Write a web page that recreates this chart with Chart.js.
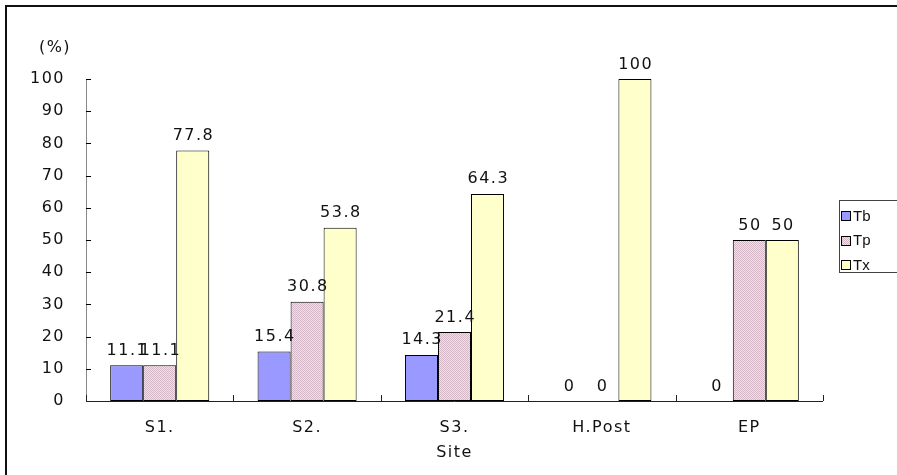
<!DOCTYPE html>
<html>
<head>
<meta charset="utf-8">
<script src="https://cdn.jsdelivr.net/npm/chart.js@4/dist/chart.umd.min.js"></script>
<style>
  html, body { margin: 0; padding: 0; background: #fff; }
  #wrap { width: 897px; height: 475px; }
</style>
</head>
<body>
<div id="wrap"><canvas id="c" width="897" height="475"></canvas></div>
<script>
// Share of each type per site (%)
const sites = ['S1.', 'S2.', 'S3.', 'H.Post', 'EP'];
const seriesNames = ['Tb', 'Tp', 'Tx'];
const tbValues = [11.1, 15.4, 14.3, 0, 0];
const tpValues = [11.1, 30.8, 21.4, 0, 50];
const txValues = [77.8, 53.8, 64.3, 100, 50];
const yTickValues = [0, 10, 20, 30, 40, 50, 60, 70, 80, 90, 100];

const FONT = '"DejaVu Sans", sans-serif';
const FONT_SIZE = 16;
const SPACING = 1.5;
const TEXT_COLOR = '#111';

// Fine pink crosshatch used for the Tp bars
function hatchPattern() {
  const t = document.createElement('canvas');
  t.width = 4; t.height = 4;
  const g = t.getContext('2d');
  g.fillStyle = '#EFE0E8';
  g.fillRect(0, 0, 4, 4);
  g.fillStyle = '#D6B9C9';
  for (let i = 0; i < 4; i++) {
    g.fillRect(i, i, 1, 1);
    g.fillRect((i + 2) % 4, i, 1, 1);
    g.fillRect((4 - i) % 4, i, 1, 1);
  }
  return g.createPattern(t, 'repeat');
}

const swatches = ['#9999FF', hatchPattern(), '#FFFFCC'];

// Letter spacing for all canvas text
const spacingPlugin = {
  id: 'spacing',
  beforeDraw(chart) { chart.ctx.letterSpacing = SPACING + 'px'; }
};

// Page frame (left and top rules) and white background
const framePlugin = {
  id: 'frame',
  beforeDraw(chart) {
    const ctx = chart.ctx;
    ctx.save();
    ctx.fillStyle = '#fff';
    ctx.fillRect(0, 0, chart.width, chart.height);
    ctx.fillStyle = '#111';
    ctx.fillRect(5, 5, 2, chart.height - 5);
    ctx.fillRect(5, 5, chart.width - 5, 2);
    ctx.restore();
  }
};

// Axis lines with inward tick marks, "(%)" unit label and the legend box
const axesPlugin = {
  id: 'axesDecor',
  afterDraw(chart) {
    const ctx = chart.ctx;
    const y = chart.scales.y;
    const a = chart.chartArea;
    ctx.save();
    ctx.lineWidth = 1;
    // y axis
    ctx.strokeStyle = '#888';
    ctx.beginPath();
    ctx.moveTo(a.left + 0.5, a.top);
    ctx.lineTo(a.left + 0.5, a.bottom);
    ctx.stroke();
    ctx.strokeStyle = '#000';
    ctx.beginPath();
    yTickValues.forEach(v => {
      const py = Math.round(y.getPixelForValue(v)) + 0.5;
      ctx.moveTo(a.left, py);
      ctx.lineTo(a.left + 5, py);
    });
    ctx.stroke();
    // x axis
    ctx.strokeStyle = '#222';
    ctx.beginPath();
    ctx.moveTo(a.left, a.bottom + 0.5);
    ctx.lineTo(a.right, a.bottom + 0.5);
    ctx.stroke();
    ctx.beginPath();
    for (let i = 0; i <= sites.length; i++) {
      const px = Math.round(a.left + (a.right - a.left) * i / sites.length) + 0.5;
      ctx.moveTo(px, a.bottom);
      ctx.lineTo(px, a.bottom - 6);
    }
    ctx.stroke();

    // unit label
    ctx.letterSpacing = SPACING + 'px';
    ctx.fillStyle = TEXT_COLOR;
    ctx.font = FONT_SIZE + 'px ' + FONT;
    ctx.textAlign = 'center';
    ctx.textBaseline = 'middle';
    ctx.fillText('(%)', 55, 48);

    // legend
    ctx.letterSpacing = '0px';
    ctx.strokeStyle = '#444';
    ctx.strokeRect(839.5, 200.5, 70, 72);
    ctx.font = '15px "Liberation Sans", Arial, sans-serif';
    ctx.textAlign = 'left';
    seriesNames.forEach((name, i) => {
      const cy = 216 + i * 24.5;
      const top = Math.round(cy - 5);
      ctx.fillStyle = swatches[i];
      ctx.fillRect(841, top, 10, 10);
      ctx.strokeStyle = '#000';
      ctx.strokeRect(841.5, top + 0.5, 9, 9);
      ctx.fillStyle = TEXT_COLOR;
      ctx.fillText(name, 853, cy + 0.5);
    });
    ctx.restore();
  }
};

// Value labels above each bar
const valueLabels = {
  id: 'valueLabels',
  afterDatasetsDraw(chart) {
    const ctx = chart.ctx;
    ctx.save();
    ctx.letterSpacing = SPACING + 'px';
    ctx.font = FONT_SIZE + 'px ' + FONT;
    ctx.fillStyle = TEXT_COLOR;
    ctx.textAlign = 'center';
    ctx.textBaseline = 'alphabetic';
    chart.data.datasets.forEach((ds, di) => {
      const meta = chart.getDatasetMeta(di);
      meta.data.forEach((bar, i) => {
        ctx.fillText(String(ds.data[i]), bar.x + SPACING / 2, bar.y - 10.5);
      });
    });
    ctx.restore();
  }
};

const tickFont = { family: FONT, size: FONT_SIZE };

new Chart(document.getElementById('c'), {
  type: 'bar',
  data: {
    labels: sites,
    datasets: [
      { label: seriesNames[0], data: tbValues, backgroundColor: swatches[0] },
      { label: seriesNames[1], data: tpValues, backgroundColor: swatches[1] },
      { label: seriesNames[2], data: txValues, backgroundColor: swatches[2] }
    ]
  },
  options: {
    responsive: false,
    animation: false,
    devicePixelRatio: 1,
    layout: { padding: { left: 0, top: 79, right: 74, bottom: 0 } },
    datasets: {
      bar: {
        categoryPercentage: 0.672,
        barPercentage: 1,
        borderColor: '#000',
        borderWidth: 1,
        borderSkipped: false
      }
    },
    plugins: {
      legend: { display: false },
      tooltip: { enabled: false }
    },
    scales: {
      x: {
        grid: { display: false, drawTicks: false },
        border: { display: false },
        ticks: { font: tickFont, color: TEXT_COLOR, padding: 17, maxRotation: 0 },
        title: {
          display: true, text: 'Site', font: tickFont, color: TEXT_COLOR,
          padding: { top: 0, bottom: 13 }
        },
        afterFit(s) { s.height = 74; }
      },
      y: {
        min: 0, max: 100,
        afterBuildTicks(s) { s.ticks = yTickValues.map(v => ({ value: v })); },
        grid: { display: false, drawTicks: false },
        border: { display: false },
        ticks: { font: tickFont, color: TEXT_COLOR, padding: 21 },
        afterFit(s) { s.width = 86; }
      }
    }
  },
  plugins: [spacingPlugin, framePlugin, axesPlugin, valueLabels]
});
</script>
</body>
</html>
